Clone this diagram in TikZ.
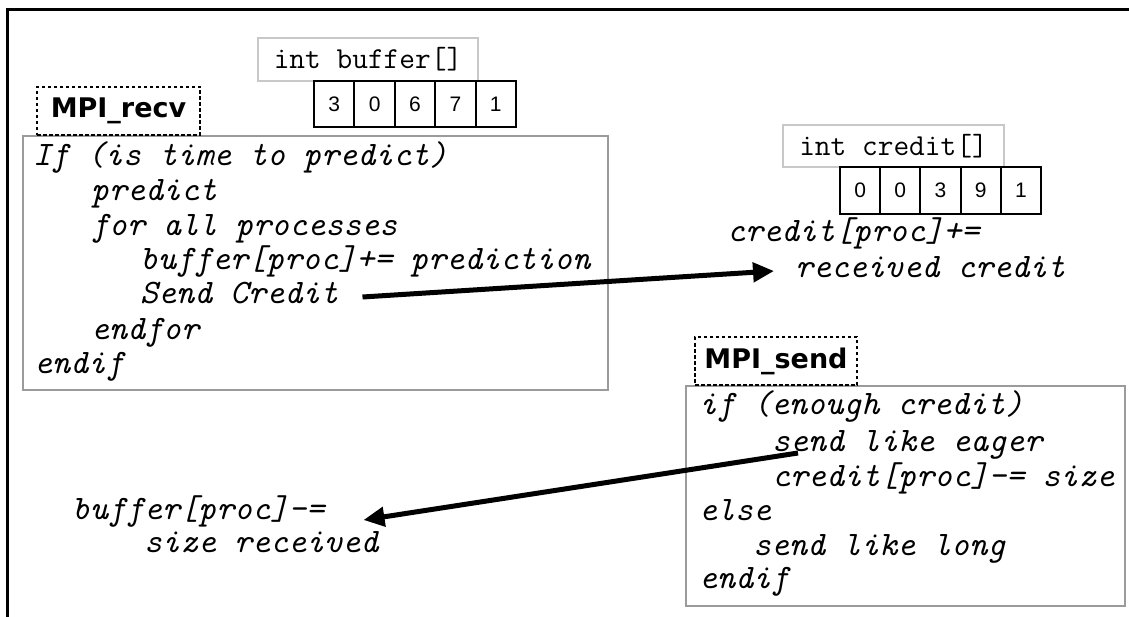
\documentclass[tikz,border=0pt]{standalone}
\usepackage{fontspec}
\newfontfamily\labelfont{DejaVu Sans}
\newfontfamily\digitfont{Liberation Sans}
\usetikzlibrary{arrows.meta}
\definecolor{boxgray}{RGB}{155,155,155}
\definecolor{taggray}{RGB}{200,200,200}
\tikzset{
  frame/.style={line width=2.2pt, draw=black},
  code/.style={font={\ttfamily\itshape\fontsize{34.3}{40}\selectfont}, inner sep=0pt,
               anchor=west, text height=20pt, text depth=6pt},
  mainbox/.style={draw=boxgray, line width=2pt, inner sep=0pt, anchor=north west},
  tagbox/.style={draw=taggray, line width=1.5pt, inner sep=0pt,
                 font={\ttfamily\fontsize{30.5}{34}\selectfont}},
  fnbox/.style={draw=black, line width=1.3pt, dash pattern=on 3.5pt off 2.5pt,
                inner sep=0pt, minimum height=48pt,
                font={\labelfont\bfseries\fontsize{27}{30}\selectfont}},
  cell/.style={draw=black, line width=2pt, inner sep=0pt,
               minimum width=40.4pt, minimum height=46pt,
               font={\digitfont\fontsize{21}{24}\selectfont}},
  bigarrow/.style={line width=5pt, -{Triangle[length=21pt,width=19pt]}},
}
\begin{document}
\begin{tikzpicture}[x=1pt,y=-1pt]
\useasboundingbox (0,0) rectangle (1129,617);

% outer frame (top and left edges)
\draw[frame] (7.5,617) -- (7.5,9.5) -- (1129,9.5);

% ---- receiver side ----
\node[mainbox, minimum width=585pt, minimum height=254pt] (recvbox) at (22,135) {};
\node[fnbox, minimum width=163pt] (recvtag) at (118.5,111) {MPI\_recv};

\node[tagbox, minimum width=220pt, minimum height=43pt] (buftag) at (368,59.5) {int buffer[]};
\foreach \v [count=\i] in {3,0,6,7,1}
  \node[cell] (b\i) at ({314+20.2+(\i-1)*40.4},104) {\v};

\node[code] (r1) at (33,159)  {If (is time to predict)};
\node[code] (r2) at (91,194)  {predict};
\node[code] (r3) at (91,229)  {for all processes};
\node[code] (r4) at (140,263) {buffer[proc]+= prediction};
\node[code] (sendcr) at (140,297) {Send Credit};
\node[code] (r6) at (91,332)  {endfor};
\node[code] (r7) at (34,366)  {endif};

% ---- credit array ----
\node[tagbox, minimum width=221pt, minimum height=42pt] (credtag) at (893.5,146) {int credit[]};
\foreach \v [count=\i] in {0,0,3,9,1}
  \node[cell, minimum width=40.2pt, minimum height=47pt] (c\i) at ({840+20.1+(\i-1)*40.2},190.5) {\v};

\node[code] (credinc) at (727,235) {credit[proc]+=};
\node[code] (rcvd) at (795,271) {received credit};

% ---- sender side ----
\node[mainbox, minimum width=439pt, minimum height=220pt] (sendbox) at (685,385) {};
\node[fnbox, minimum width=162pt] (sendtag) at (776,361) {MPI\_send};

\node[code] (s1) at (699,407) {if (enough credit)};
\node[code] (eager) at (772,444) {send like eager};
\node[code] (s3) at (772,479) {credit[proc]-= size};
\node[code] (s4) at (699,513) {else};
\node[code] (s5) at (753,548) {send like long};
\node[code] (s6) at (699,581) {endif};

\node[code] (bufdec) at (72,512) {buffer[proc]-=};
\node[code] (sizer) at (144,545) {size received};

% ---- messages ----
\coordinate (eagerpt) at (798,453);
\draw[bigarrow] ([xshift=24pt]sendcr.east) -- ([xshift=-21pt]rcvd.west);
\draw[bigarrow] (eagerpt) -- ([xshift=39pt,yshift=-8pt]bufdec.east);
\end{tikzpicture}
\end{document}
